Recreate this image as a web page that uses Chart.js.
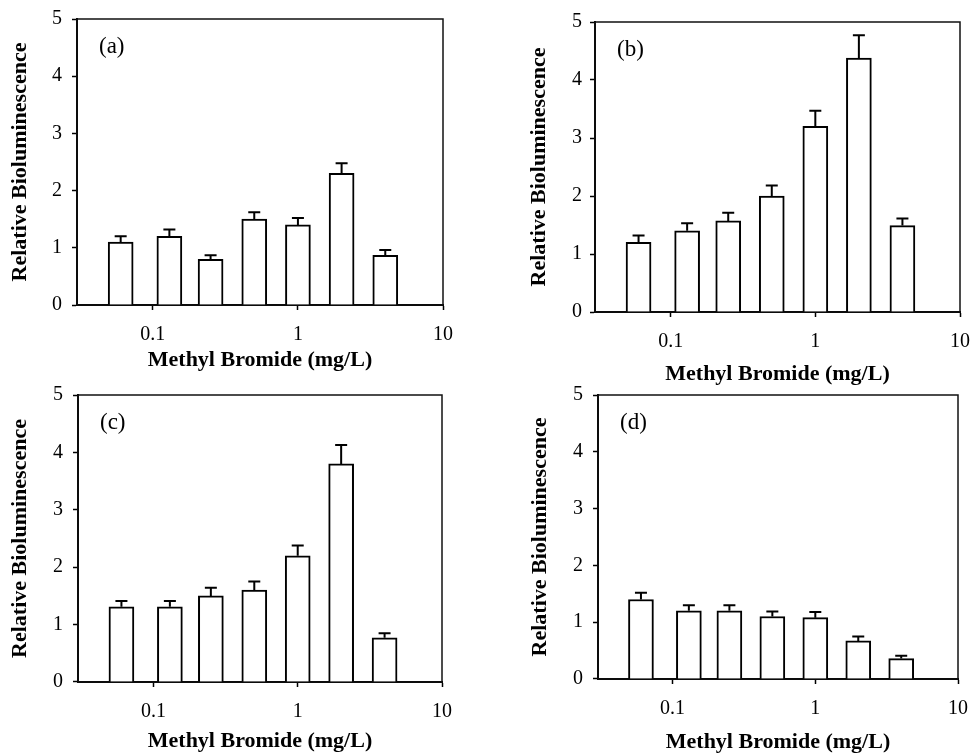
<!DOCTYPE html>
<html>
<head>
<meta charset="utf-8">
<script src="https://cdn.jsdelivr.net/npm/chart.js@4/dist/chart.umd.min.js"></script>
<style>
  html, body { margin: 0; padding: 0; background: #fff; overflow: hidden; }
  body { width: 970px; height: 753px; position: relative; }
  canvas { position: absolute; }
</style>
</head>
<body>
<canvas id="panelA" width="485" height="390"></canvas>
<canvas id="panelB" width="485" height="390"></canvas>
<canvas id="panelC" width="485" height="390"></canvas>
<canvas id="panelD" width="485" height="390"></canvas>
<script>
// methyl bromide doses (mg/L), shared by all four panels
const concentrations = [0.06, 0.13, 0.25, 0.5, 1, 2, 4];
const xTickValues = [0.1, 1, 10];

const valuesA = [1.1, 1.2, 0.8, 1.5, 1.4, 2.3, 0.87];
const errorsA = [0.1, 0.12, 0.07, 0.12, 0.12, 0.18, 0.09];
const valuesB = [1.2, 1.4, 1.57, 2.0, 3.2, 4.38, 1.49];
const errorsB = [0.12, 0.13, 0.14, 0.18, 0.27, 0.39, 0.12];
const valuesC = [1.31, 1.31, 1.5, 1.6, 2.2, 3.8, 0.77];
const errorsC = [0.1, 0.1, 0.14, 0.15, 0.18, 0.33, 0.08];
const valuesD = [1.4, 1.2, 1.2, 1.1, 1.08, 0.67, 0.36];
const errorsD = [0.12, 0.1, 0.1, 0.09, 0.1, 0.08, 0.05];

const SERIF = '"Liberation Serif", "Times New Roman", serif';
const TITLE_SIZE = 22;
const TICK_SIZE = 20;

// upward-only error bars with a cap
const errorBars = {
    id: 'errorBars',
    afterDatasetsDraw(chart) {
        const ds = chart.data.datasets[0];
        const meta = chart.getDatasetMeta(0);
        const yScale = chart.scales.y;
        const ctx = chart.ctx;
        ctx.save();
        ctx.strokeStyle = '#000';
        ctx.lineWidth = 2;
        meta.data.forEach((bar, i) => {
            const top = yScale.getPixelForValue(ds.data[i].y + ds.errors[i]);
            ctx.beginPath();
            ctx.moveTo(bar.x, bar.y);
            ctx.lineTo(bar.x, top);
            ctx.moveTo(bar.x - 6, top);
            ctx.lineTo(bar.x + 6, top);
            ctx.stroke();
        });
        ctx.restore();
    }
};

// box round the plot and the (a)/(b)... tag
const frameAndTag = {
    id: 'frameAndTag',
    beforeDatasetsDraw(chart) {
        const { ctx, chartArea: a } = chart;
        ctx.save();
        ctx.strokeStyle = '#111';
        ctx.lineWidth = 1.5;
        ctx.strokeRect(a.left, a.top, a.right - a.left, a.bottom - a.top);
        ctx.restore();
    },
    afterDraw(chart) {
        const { ctx, chartArea: a } = chart;
        ctx.save();
        ctx.fillStyle = '#000';
        ctx.font = '23px ' + SERIF;
        ctx.textBaseline = 'middle';
        ctx.fillText(chart.options.plugins.frameAndTag.tag, a.left + 22, a.top + 28);
        ctx.restore();
    }
};

function makePanel(id, tag, values, errors, box) {
    const canvas = document.getElementById(id);
    canvas.style.left = box.left + 'px';
    canvas.style.top = box.top + 'px';
    const W = canvas.width, H = canvas.height;
    const half = TITLE_SIZE * 1.2 / 2;
    const padLeft = box.yTitleX - half - box.left;
    const yAxisWidth = box.l - box.left - padLeft;
    const padBottom = box.top + H - box.xTitleY - half;
    const xAxisHeight = box.xTitleY + half - box.b;

    return new Chart(canvas, {
        type: 'bar',
        data: {
            datasets: [{
                data: concentrations.map((c, i) => ({ x: c, y: values[i] })),
                errors: errors,
                backgroundColor: '#fff',
                borderColor: '#000',
                borderWidth: 2,
                barThickness: 25,
            }]
        },
        options: {
            responsive: false,
            animation: false,
            layout: {
                padding: {
                    left: padLeft,
                    top: box.t - box.top,
                    right: box.left + W - box.r,
                    bottom: padBottom,
                }
            },
            plugins: {
                legend: { display: false },
                tooltip: { enabled: false },
                frameAndTag: { tag: tag },
            },
            scales: {
                x: {
                    type: 'logarithmic',
                    min: 0.03,
                    max: 10,
                    offset: false,
                    afterBuildTicks(scale) {
                        scale.ticks = xTickValues.map(v => ({ value: v }));
                    },
                    afterFit(scale) {
                        scale.height = xAxisHeight;
                        scale.paddingLeft = 0;
                        scale.paddingRight = 0;
                    },
                    border: { display: true, color: '#000', width: 2 },
                    grid: { offset: false, drawOnChartArea: false, tickLength: 5, tickColor: '#000', tickWidth: 1.5 },
                    ticks: {
                        color: '#000',
                        padding: 13,
                        maxRotation: 0,
                        font: { family: SERIF, size: TICK_SIZE },
                        callback: v => String(v),
                    },
                    title: {
                        display: true,
                        text: 'Methyl Bromide (mg/L)',
                        color: '#000',
                        padding: 0,
                        font: { family: SERIF, size: TITLE_SIZE, weight: 'bold', lineHeight: 1.2 },
                    }
                },
                y: {
                    min: 0,
                    max: 5,
                    afterFit(scale) {
                        scale.width = yAxisWidth;
                        scale.paddingTop = 0;
                        scale.paddingBottom = 0;
                    },
                    border: { display: true, color: '#000', width: 2 },
                    grid: { drawOnChartArea: false, tickLength: 5, tickColor: '#000', tickWidth: 1.5 },
                    ticks: {
                        stepSize: 1,
                        color: '#000',
                        padding: box.yTickPad,
                        font: { family: SERIF, size: TICK_SIZE },
                    },
                    title: {
                        display: true,
                        text: 'Relative Bioluminescence',
                        color: '#000',
                        padding: 0,
                        font: { family: SERIF, size: TITLE_SIZE, weight: 'bold', lineHeight: 1.2 },
                    }
                }
            }
        },
        plugins: [errorBars, frameAndTag]
    });
}

makePanel('panelA', '(a)', valuesA, errorsA,
    { left: 0, top: 0, l: 77, t: 19, r: 443, b: 305, yTitleX: 20, xTitleY: 360, yTickPad: 10 });
makePanel('panelB', '(b)', valuesB, errorsB,
    { left: 485, top: 0, l: 595, t: 22, r: 960, b: 312, yTitleX: 539, xTitleY: 374, yTickPad: 8 });
makePanel('panelC', '(c)', valuesC, errorsC,
    { left: 0, top: 376, l: 78, t: 395, r: 442, b: 682, yTitleX: 20, xTitleY: 741, yTickPad: 10 });
makePanel('panelD', '(d)', valuesD, errorsD,
    { left: 485, top: 376, l: 598, t: 395, r: 958, b: 679, yTitleX: 540, xTitleY: 742, yTickPad: 10 });
</script>
</body>
</html>
